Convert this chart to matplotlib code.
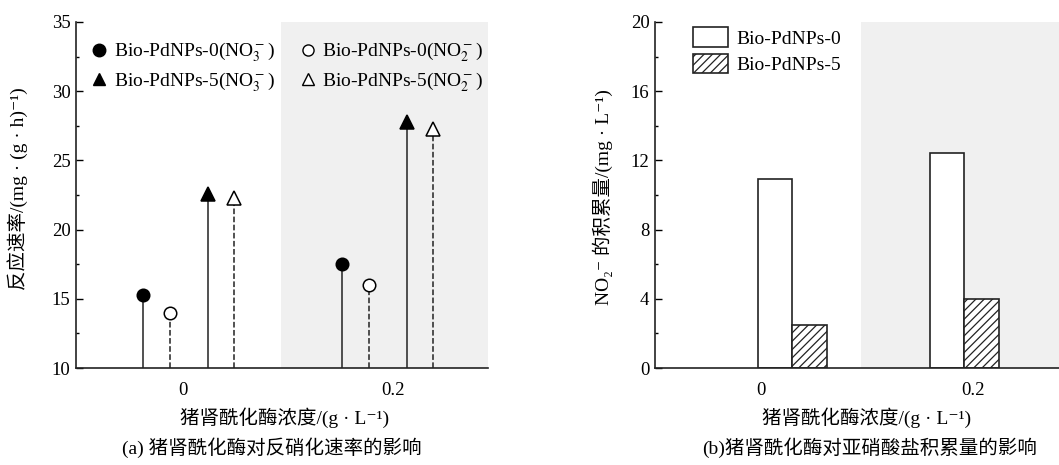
import matplotlib
matplotlib.use("Agg")
import matplotlib.pyplot as plt
from matplotlib.lines import Line2D

plt.rcParams['font.family'] = ['Liberation Serif', 'Noto Sans CJK SC', 'DejaVu Serif']
plt.rcParams['mathtext.fontset'] = 'stix'
plt.rcParams['hatch.linewidth'] = 0.9

# ---- data ----
conc_labels = ['0', '0.2']
rate_p0_no3 = [15.3, 17.5]
rate_p0_no2 = [13.95, 16.0]
rate_p5_no3 = [22.6, 27.8]
rate_p5_no2 = [22.25, 27.3]

acc_p0 = [10.9, 12.4]
acc_p5 = [2.5, 4.0]

FS_TICK = 13.5
FS_LEG = 14
FS_LAB = 14
GRAY = '#f0f0f0'
DARK = '#222222'

fig = plt.figure(figsize=(10.59, 4.65), dpi=100)

# ---------------- panel (a) ----------------
W, H = 1059, 465
axa = fig.add_axes([76 / W, 1 - 368 / H, (488 - 76) / W, (368 - 22) / H])
gx = [0, 1]
offs = [-0.23, -0.095, 0.1, 0.23]
axa.set_xlim(-0.565, 1.505)
axa.set_ylim(10, 35)
axa.axvspan(0.465, 1.505, color=GRAY, zorder=0, lw=0)

series = [
    (rate_p0_no3, 'o', 'black', '-', 'Bio-PdNPs-0(NO$_3^-$)'),
    (rate_p5_no3, '^', 'black', '-', 'Bio-PdNPs-5(NO$_3^-$)'),
    (rate_p0_no2, 'o', 'white', '--', 'Bio-PdNPs-0(NO$_2^-$)'),
    (rate_p5_no2, '^', 'white', '--', 'Bio-PdNPs-5(NO$_2^-$)'),
]
order_off = [0, 2, 1, 3]
handles = []
for (vals, mk, fc, ls, lab), oi in zip(series, order_off):
    xs = [g + offs[oi] for g in gx]
    axa.vlines(xs, 10, vals, colors=DARK, linestyles=ls, lw=1.1, zorder=2)
    ms = 9 if mk == 'o' else 10
    axa.plot(xs, vals, linestyle='none', marker=mk, ms=ms, mfc=fc, mec='black', mew=1.1, zorder=3,
             clip_on=False)
    hms = 9 if fc == 'black' else 8
    handles.append(Line2D([], [], linestyle='none', marker=mk, ms=hms, mfc=fc, mec='black', mew=1.0, label=lab))

axa.set_yticks([10, 15, 20, 25, 30, 35])
axa.set_yticks([12.5, 17.5, 22.5, 27.5, 32.5], minor=True)
axa.set_xticks([-0.03, 1.03])
axa.set_xticklabels(conc_labels)
axa.tick_params(axis='y', which='major', direction='in', length=5, width=1, labelsize=FS_TICK, pad=4)
axa.tick_params(axis='y', which='minor', direction='in', length=2.5, width=1)
axa.tick_params(axis='x', which='both', length=0, labelsize=FS_TICK, pad=10)
for s in ['top', 'right']:
    axa.spines[s].set_visible(False)
for s in ['left', 'bottom']:
    axa.spines[s].set_linewidth(1.2)
    axa.spines[s].set_color(DARK)

axa.legend(handles=handles, ncol=2, loc='upper left', bbox_to_anchor=(0.037, 0.945),
           frameon=False, fontsize=FS_LEG, handlelength=0.8, handletextpad=0.35,
           columnspacing=1.3, labelspacing=0.3, borderaxespad=0, borderpad=0)

fig.text(18 / W, 1 - 189 / H, '反应速率/(mg · (g · h)⁻¹)', rotation=90, ha='center', va='center', fontsize=FS_LAB)
fig.text(285 / W, 1 - 418 / H, '猪肾酰化酶浓度/(g · L⁻¹)', ha='center', va='center', fontsize=FS_LAB)
fig.text(272 / W, 1 - 448 / H, '(a) 猪肾酰化酶对反硝化速率的影响', ha='center', va='center', fontsize=FS_LAB)

# ---------------- panel (b) ----------------
axb = fig.add_axes([655 / W, 1 - 368 / H, (1059 - 655) / W, (368 - 22) / H])
axb.set_xlim(-0.798, 1.55)
axb.set_ylim(0, 20)
axb.axvspan(0.4, 1.55, color=GRAY, zorder=0, lw=0)
bw = 0.2
axb.bar([g - bw / 2 for g in gx], acc_p0, width=bw, facecolor='white', edgecolor=DARK, lw=1.2,
        zorder=2, label='Bio-PdNPs-0')
axb.bar([g + bw / 2 for g in gx], acc_p5, width=bw, facecolor='white', edgecolor=DARK, lw=1.2,
        hatch='////', zorder=2, label='Bio-PdNPs-5')
axb.set_yticks([0, 4, 8, 12, 16, 20])
axb.set_yticks([2, 6, 10, 14, 18], minor=True)
axb.set_xticks([-0.184, 1.052])
axb.set_xticklabels(conc_labels)
axb.tick_params(axis='y', which='major', direction='in', length=5, width=1, labelsize=FS_TICK, pad=4)
axb.tick_params(axis='y', which='minor', direction='in', length=2.5, width=1)
axb.tick_params(axis='x', which='both', length=0, labelsize=FS_TICK, pad=10)
for s in ['top', 'right']:
    axb.spines[s].set_visible(False)
for s in ['left', 'bottom']:
    axb.spines[s].set_linewidth(1.2)
    axb.spines[s].set_color(DARK)

axb.legend(loc='upper left', bbox_to_anchor=(0.095, 0.985), frameon=False, fontsize=FS_LEG,
           handlelength=1.8, handleheight=1.2, handletextpad=0.4, labelspacing=0.3,
           borderaxespad=0, borderpad=0)

fig.text(603 / W, 1 - 197 / H, 'NO₂⁻ 的积累量/(mg · L⁻¹)', rotation=90, ha='center', va='center', fontsize=FS_LAB)
fig.text(867 / W, 1 - 418 / H, '猪肾酰化酶浓度/(g · L⁻¹)', ha='center', va='center', fontsize=FS_LAB)
fig.text(870 / W, 1 - 448 / H, '(b)猪肾酰化酶对亚硝酸盐积累量的影响', ha='center', va='center', fontsize=FS_LAB)

fig.savefig('out.png', dpi=100)
